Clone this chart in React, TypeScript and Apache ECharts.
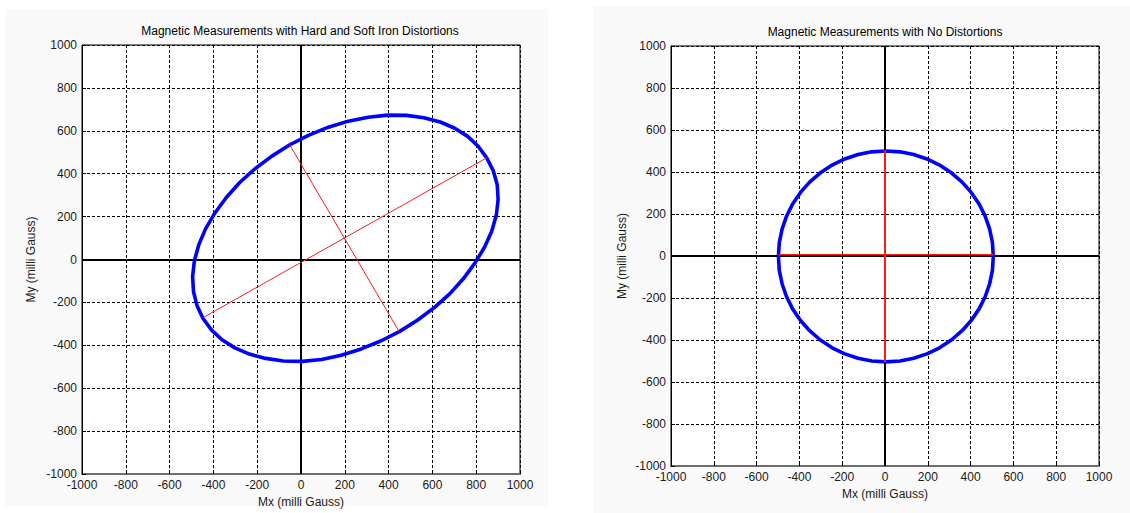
import React, { useEffect, useRef } from "react";
import * as echarts from "echarts";

const AXIS_MIN = -1000;
const AXIS_MAX = 1000;
const AXIS_STEP = 200;

const leftTitle = "Magnetic Measurements with Hard and Soft Iron Distortions";
const rightTitle = "Magnetic Measurements with No Distortions";
const xAxisName = "Mx (milli Gauss)";
const yAxisName = "My (milli Gauss)";

const distortedPoints: number[][] = [
  [848, 474], [809, 528], [761, 574], [702, 612], [636, 641], [561, 661],
  [481, 672], [395, 673], [307, 663], [216, 645], [125, 617], [36, 580],
  [-51, 535], [-133, 482], [-210, 423], [-280, 359], [-341, 289], [-393, 217],
  [-436, 143], [-467, 68], [-487, -7], [-495, -79], [-491, -149], [-475, -214],
  [-448, -274], [-409, -328], [-361, -374], [-302, -412], [-236, -441], [-161, -461],
  [-81, -473], [5, -475], [94, -466], [184, -446], [275, -417], [364, -380],
  [451, -335], [533, -282], [610, -223], [680, -159], [741, -90], [794, -17],
  [838, 57], [871, 132], [892, 207], [900, 279], [896, 349], [878, 414],
  [848, 474],
];
const distortedMajorAxis: number[][] = [[-449, -272], [848, 474]];
const distortedMinorAxis: number[][] = [[-53, 537], [447, -334]];

// Calibrated measurements (no distortion)
const calibratedPoints: number[][] = [
  [506, -2], [502, 64], [489, 128], [468, 190], [439, 249], [402, 304],
  [359, 353], [310, 396], [255, 433], [196, 462], [134, 483], [70, 496],
  [4, 500], [-62, 496], [-126, 483], [-188, 462], [-247, 433], [-302, 396],
  [-351, 353], [-394, 304], [-431, 249], [-460, 190], [-481, 128], [-494, 64],
  [-498, -2], [-494, -68], [-481, -132], [-460, -194], [-431, -253], [-394, -308],
  [-351, -357], [-302, -400], [-247, -437], [-188, -466], [-126, -487], [-62, -500],
  [4, -504], [70, -500], [134, -487], [196, -466], [255, -437], [310, -400],
  [359, -357], [402, -308], [439, -253], [468, -194], [489, -132], [502, -68],
  [506, -2],
];
const calibratedXAxisLine: number[][] = [[-498, 6], [506, 6]];
const calibratedYAxisLine: number[][] = [[0, -506], [0, 502]];

const FONT = '"Liberation Sans", Arial, sans-serif';
const TEXT_COLOR = "#1a1a1a";

function makeAxis(gridIndex: number, isX: boolean, nameGap: number) {
  return {
    type: "value",
    gridIndex,
    min: AXIS_MIN,
    max: AXIS_MAX,
    interval: AXIS_STEP,
    name: isX ? xAxisName : yAxisName,
    nameLocation: "middle",
    nameGap,
    nameTextStyle: { fontFamily: FONT, fontSize: 12, color: TEXT_COLOR },
    axisLine: {
      show: true,
      onZero: false,
      lineStyle: isX ? { color: "#6e6e6e", width: 2 } : { color: "#000", width: 1 },
    },
    axisTick: { show: true, inside: true, length: 4, lineStyle: { color: "#000" } },
    axisLabel: {
      show: true,
      margin: 5,
      fontFamily: FONT,
      fontSize: 12,
      color: TEXT_COLOR,
      showMinLabel: true,
      showMaxLabel: true,
      hideOverlap: false,
      formatter: (v: number) => String(v),
    },
    splitLine: {
      show: true,
      lineStyle: { color: "#000", width: 1, type: [3, 2] },
    },
  };
}

function zeroLines(idx: number) {
  return {
    type: "line",
    xAxisIndex: idx,
    yAxisIndex: idx,
    data: [],
    z: 1,
    silent: true,
    markLine: {
      silent: true,
      z: 1,
      symbol: "none",
      label: { show: false },
      lineStyle: { color: "#000", width: 2, type: "solid" },
      data: [{ xAxis: 0 }, { yAxis: 0 }],
    },
  };
}

function ringSeries(idx: number, data: number[][]) {
  return {
    type: "line",
    xAxisIndex: idx,
    yAxisIndex: idx,
    data,
    smooth: false,
    showSymbol: false,
    symbol: "none",
    z: 3,
    lineStyle: { color: "#0000ff", width: 3.6, join: "round" },
  };
}

function redSeries(idx: number, data: number[][], width: number) {
  return {
    type: "line",
    xAxisIndex: idx,
    yAxisIndex: idx,
    data,
    showSymbol: false,
    symbol: "none",
    z: 6,
    lineStyle: { color: "#ff1a1a", width },
  };
}

export default function App() {
  const ref = useRef<HTMLDivElement>(null);

  useEffect(() => {
    if (!ref.current) return;
    const chart = echarts.init(ref.current, undefined, { renderer: "svg" });
    chart.setOption({
      animation: false,
      backgroundColor: "transparent",
      graphic: [
        {
          type: "text",
          x: 300,
          y: 31,
          style: {
            text: leftTitle,
            fill: "#000",
            font: `12px ${FONT}`,
            textAlign: "center",
            textVerticalAlign: "middle",
            align: "center",
            verticalAlign: "middle",
          },
        },
        {
          type: "text",
          x: 885,
          y: 32,
          style: {
            text: rightTitle,
            fill: "#000",
            font: `12px ${FONT}`,
            textAlign: "center",
            textVerticalAlign: "middle",
            align: "center",
            verticalAlign: "middle",
          },
        },
      ],
      grid: [
        {
          left: 82, top: 45, width: 438, height: 431,
          show: true, backgroundColor: "#fff", borderColor: "#000", borderWidth: 1,
        },
        {
          left: 671, top: 46, width: 428, height: 420,
          show: true, backgroundColor: "#fff", borderColor: "#000", borderWidth: 1,
        },
      ],
      xAxis: [makeAxis(0, true, 22), makeAxis(1, true, 21)],
      yAxis: [makeAxis(0, false, 45), makeAxis(1, false, 43)],
      series: [
        zeroLines(0),
        ringSeries(0, distortedPoints),
        redSeries(0, distortedMajorAxis, 1),
        redSeries(0, distortedMinorAxis, 1),
        zeroLines(1),
        ringSeries(1, calibratedPoints),
        redSeries(1, calibratedXAxisLine, 1.5),
        redSeries(1, calibratedYAxisLine, 2),
      ],
    });
    return () => chart.dispose();
  }, []);

  return (
    <div style={{ position: "fixed", left: 0, top: 0, width: 1130, height: 513, background: "#fff" }}>
      <div style={{ position: "absolute", left: 5, top: 9, width: 543, height: 497, background: "#f9f9f9" }} />
      <div style={{ position: "absolute", left: 593, top: 6, width: 537, height: 507, background: "#f9f9f9" }} />
      <div ref={ref} style={{ position: "absolute", left: 0, top: 0, width: 1130, height: 513 }} />
    </div>
  );
}
